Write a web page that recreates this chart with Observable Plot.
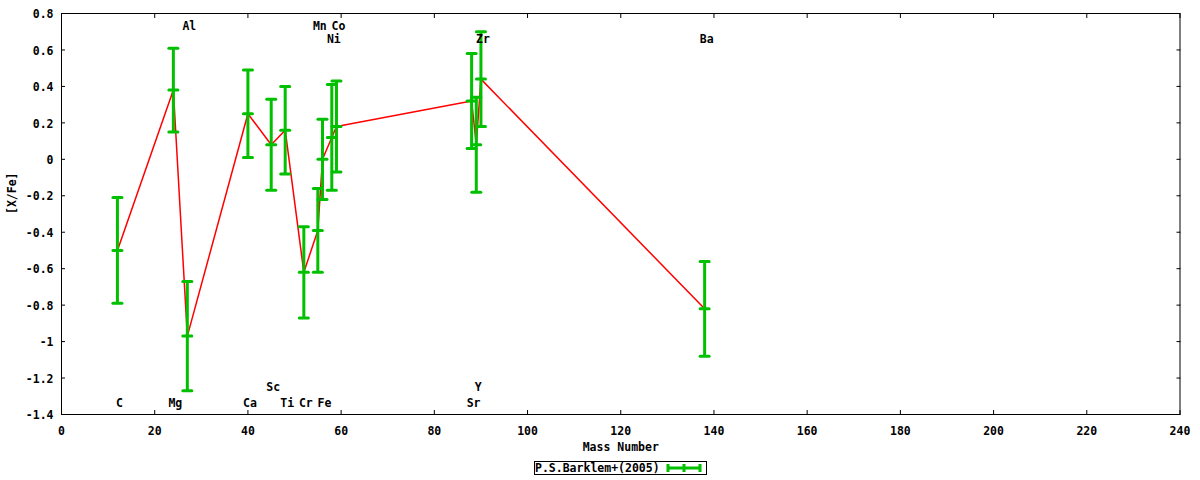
<!DOCTYPE html>
<html>
<head>
<meta charset="utf-8">
<script src="https://cdn.jsdelivr.net/npm/d3@7"></script>
<script src="https://cdn.jsdelivr.net/npm/@observablehq/plot@0.6"></script>
<style>
  html, body { margin: 0; padding: 0; background: #fff; }
  #wrap { width: 1200px; height: 480px; position: relative; font-family: "DejaVu Sans Mono", monospace; font-weight: bold; font-size: 11.5px; }
  #legend { position: absolute; left: 534px; top: 461px; height: 12px; border: 1px solid #000; background: #fff; display: flex; align-items: center; line-height: 12px; padding-right: 4px; }
  #legend svg { margin-left: 6px; }
</style>
</head>
<body>
<div id="wrap"></div>
<script>
// ---- data ----
const elements = ["C", "Mg", "Al", "Ca", "Sc", "Ti", "Cr", "Mn", "Fe", "Ni", "Co", "Sr", "Y", "Zr", "Ba"];
const massNumber = [12, 24, 27, 40, 45, 48, 52, 55, 56, 58, 59, 88, 89, 90, 138];
const xFe = [-0.50, 0.38, -0.97, 0.25, 0.08, 0.16, -0.62, -0.39, 0.00, 0.12, 0.18, 0.32, 0.08, 0.44, -0.82];
const xFeErr = [0.29, 0.23, 0.30, 0.24, 0.25, 0.24, 0.25, 0.23, 0.22, 0.29, 0.25, 0.26, 0.26, 0.26, 0.26];
const xTicks = [0, 20, 40, 60, 80, 100, 120, 140, 160, 180, 200, 220, 240];
const yTicks = [0.8, 0.6, 0.4, 0.2, 0, -0.2, -0.4, -0.6, -0.8, -1, -1.2, -1.4];
const seriesName = "P.S.Barklem+(2005)";

const data = elements.map((el, i) => ({
  el, mass: massNumber[i], v: xFe[i], lo: xFe[i] - xFeErr[i], hi: xFe[i] + xFeErr[i]
}));

// label rows (layout choice)
const topRow1 = new Set(["Al", "Mn", "Co"]);
const topRow2 = new Set(["Ni", "Zr", "Ba"]);
const botRow1 = new Set(["Sc", "Y"]);
const botRow2 = new Set(["C", "Mg", "Ca", "Ti", "Cr", "Fe", "Sr"]);

const green = "#00c000";
const red = "#ff0000";
const font = "DejaVu Sans Mono, monospace";

const capShape = {
  draw(context, l) {
    context.moveTo(0, 0);
    context.lineTo(0, -l);
  }
};

const fmt = d => d === 0 ? "0" : String(+d.toFixed(1));

const H = 456;
const chart = Plot.plot({
  width: 1200,
  height: H,
  marginLeft: 61,
  marginRight: 20.5,
  marginTop: 13,
  marginBottom: H - 414,
  style: { fontFamily: font, fontSize: "11.5px", fontWeight: "bold", background: "#fff", color: "#000" },
  x: { domain: [0, 240] },
  y: { domain: [-1.4, 0.8] },
  marks: [
    Plot.frame({ stroke: "#000", strokeWidth: 1 }),
    // inward ticks on all four sides
    Plot.axisX({ anchor: "bottom", ticks: xTicks, tickSize: -4, fill: "none", label: null }),
    Plot.axisX({ anchor: "top", ticks: xTicks, tickSize: -4, fill: "none", label: null }),
    Plot.axisY({ anchor: "left", ticks: yTicks, tickSize: -4, fill: "none", label: null }),
    Plot.axisY({ anchor: "right", ticks: yTicks, tickSize: -4, fill: "none", label: null }),
    // tick labels
    Plot.axisX({ anchor: "bottom", ticks: xTicks, tickSize: 0, tickPadding: 12, tickFormat: fmt, label: null }),
    Plot.axisY({ anchor: "left", ticks: yTicks, tickSize: 0, tickPadding: 8, dy: 1, tickFormat: fmt, label: null }),
    // axis titles
    Plot.text(["Mass Number"], { frameAnchor: "bottom", dy: 36, fill: "#000" }),
    Plot.text(["[X/Fe]"], { frameAnchor: "left", dx: -49, rotate: -90, fill: "#000" }),
    // connecting line
    Plot.line(data, { x: "mass", y: "v", stroke: red, strokeWidth: 1.5 }),
    // error bars
    Plot.ruleX(data, { x: "mass", y1: "lo", y2: "hi", stroke: green, strokeWidth: 3 }),
    Plot.vector(data, { x: "mass", y: "lo", length: 9, rotate: 90, anchor: "middle", shape: capShape, stroke: green, strokeWidth: 3 }),
    Plot.vector(data, { x: "mass", y: "hi", length: 9, rotate: 90, anchor: "middle", shape: capShape, stroke: green, strokeWidth: 3 }),
    Plot.vector(data, { x: "mass", y: "v", length: 9, rotate: 90, anchor: "middle", shape: capShape, stroke: green, strokeWidth: 3 }),
    // element labels
    Plot.text(data.filter(d => topRow1.has(d.el)), { x: "mass", text: "el", frameAnchor: "top", dy: 8, dx: 2, fill: "#000" }),
    Plot.text(data.filter(d => topRow2.has(d.el)), { x: "mass", text: "el", frameAnchor: "top", dy: 21, dx: 2, fill: "#000" }),
    Plot.text(data.filter(d => botRow1.has(d.el)), { x: "mass", text: "el", frameAnchor: "bottom", dy: -24, dx: 2, fill: "#000" }),
    Plot.text(data.filter(d => botRow2.has(d.el)), { x: "mass", text: "el", frameAnchor: "bottom", dy: -8, dx: 2, fill: "#000" })
  ]
});

const wrap = document.getElementById("wrap");
wrap.appendChild(chart);

// legend
const legend = document.createElement("div");
legend.id = "legend";
const label = document.createElement("span");
label.textContent = seriesName;
legend.appendChild(label);
const ns = "http://www.w3.org/2000/svg";
const sw = document.createElementNS(ns, "svg");
sw.setAttribute("width", "36");
sw.setAttribute("height", "10");
const parts = [
  [2, 5, 34, 5],
  [2, 1, 2, 9],
  [18, 1, 18, 9],
  [34, 1, 34, 9]
];
for (const [x1, y1, x2, y2] of parts) {
  const l = document.createElementNS(ns, "line");
  l.setAttribute("x1", x1); l.setAttribute("y1", y1);
  l.setAttribute("x2", x2); l.setAttribute("y2", y2);
  l.setAttribute("stroke", green); l.setAttribute("stroke-width", "3");
  sw.appendChild(l);
}
legend.appendChild(sw);
wrap.appendChild(legend);
</script>
</body>
</html>
